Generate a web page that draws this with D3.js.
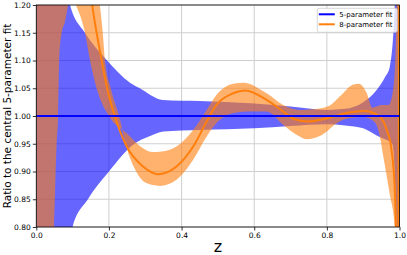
<!DOCTYPE html>
<html>
<head>
<meta charset="utf-8">
<script src="https://cdn.jsdelivr.net/npm/d3@7"></script>
<style>
    body { margin: 0; background: #fff; }
    svg text { font-family: "DejaVu Sans", sans-serif; fill: #000; }
</style>
</head>
<body>
<div id="chart"></div>
<script>
// values
var xTicks = [0.0, 0.2, 0.4, 0.6, 0.8, 1.0];
var yTicks = [0.80, 0.85, 0.90, 0.95, 1.00, 1.05, 1.10, 1.15, 1.20];
var seriesNames = ["5-parameter fit", "8-parameter fit"];

// 5-parameter fit: central value and band
var zFive = [0, 1];
var fiveMid = [1.0, 1.0];
var zFiveHi = [0.0, 0.05, 0.093, 0.134, 0.195, 0.258, 0.285, 0.348, 0.45, 0.59, 0.7, 0.8, 0.85, 0.9, 0.937, 0.96, 0.973, 0.987, 1.0];
var fiveHi = [3.0, 1.5, 1.2, 1.15, 1.10, 1.06, 1.05, 1.029, 1.027, 1.023, 1.017, 1.011, 1.013, 1.025, 1.047, 1.07, 1.088, 1.2, 2.0];
var zFiveLo = [0.0, 0.05, 0.1, 0.142, 0.2, 0.27, 0.31, 0.35, 0.45, 0.6, 0.7, 0.8, 0.85, 0.9, 0.937, 0.96, 0.98, 0.99, 0.995, 1.0];
var fiveLo = [-1.0, 0.5, 0.8, 0.85, 0.90, 0.95, 0.963, 0.972, 0.975, 0.978, 0.982, 0.985, 0.983, 0.978, 0.965, 0.958, 0.95, 0.85, 0.6, 0.0];

// 8-parameter fit: central curve and the two band edges
var zEight = [0.12, 0.154, 0.18, 0.195, 0.216, 0.249, 0.294, 0.335, 0.386, 0.432, 0.469, 0.496, 0.542, 0.575, 0.634, 0.68, 0.712, 0.748, 0.802, 0.857, 0.904, 0.93, 0.95, 0.965, 0.978, 0.987, 0.99, 0.994, 0.9965, 1.0];
var eightMid = [1.4, 1.2, 1.10, 1.05, 1.0, 0.945, 0.909, 0.895, 0.909, 0.945, 0.99, 1.02, 1.041, 1.046, 1.029, 1.008, 0.994, 0.99, 0.996, 1.006, 1.009, 1.005, 0.996, 0.975, 0.939, 0.867, 0.80, 0.55, 0.55, 1.5];
var zEightA = [0.0, 0.03, 0.049, 0.056, 0.06, 0.063, 0.07, 0.079, 0.088, 0.098, 0.109, 0.134, 0.148, 0.166, 0.2, 0.249, 0.294, 0.32, 0.345, 0.386, 0.432, 0.469, 0.496, 0.542, 0.57, 0.634, 0.68, 0.725, 0.76, 0.802, 0.84, 0.87, 0.888, 0.91, 0.925, 0.95, 0.97, 0.985, 0.992, 1.0];
var eightA = [0.2, 0.6, 0.8, 0.95, 1.0, 1.1, 1.15, 1.17, 1.2, 1.215, 1.2, 1.15, 1.10, 1.05, 1.0, 0.969, 0.942, 0.935, 0.936, 0.945, 0.975, 1.011, 1.038, 1.058, 1.06, 1.041, 1.02, 1.011, 1.012, 1.017, 1.038, 1.056, 1.058, 1.041, 1.015, 1.02, 1.02, 1.06, 1.2, 2.0];
var zEightB = [0.0, 0.05, 0.1, 0.15, 0.175, 0.183, 0.189, 0.205, 0.228, 0.25, 0.275, 0.3, 0.34, 0.386, 0.432, 0.469, 0.5, 0.54, 0.58, 0.634, 0.68, 0.72, 0.745, 0.8, 0.82, 0.86, 0.9, 0.93, 0.945, 0.956, 0.973, 0.987, 0.995, 1.0];
var eightB = [3.0, 2.0, 1.6, 1.3, 1.2, 1.15, 1.10, 1.05, 1.0, 0.94, 0.9, 0.88, 0.874, 0.885, 0.921, 0.963, 0.99, 1.005, 1.008, 1.008, 0.984, 0.965, 0.958, 0.972, 0.984, 0.996, 0.998, 0.99, 0.966, 0.925, 0.86, 0.8, 0.5, 0.0];

var width = 407, height = 255;
var plotLeft = 36.3, plotRight = 399.5, plotTop = 5, plotBottom = 227;

var svg = d3.select("#chart").append("svg")
    .attr("width", width)
    .attr("height", height);

var x = d3.scaleLinear().domain([0, 1]).range([plotLeft, plotRight]);
var y = d3.scaleLinear().domain([0.8, 1.2]).range([plotBottom, plotTop]);

svg.append("clipPath").attr("id", "plotclip")
    .append("rect")
    .attr("x", plotLeft).attr("y", plotTop)
    .attr("width", plotRight - plotLeft).attr("height", plotBottom - plotTop);

// grid
var grid = svg.append("g").attr("class", "grid");
grid.selectAll(".gx").data(xTicks).enter().append("line")
    .attr("x1", function(d){ return x(d); }).attr("x2", function(d){ return x(d); })
    .attr("y1", plotTop).attr("y2", plotBottom)
    .style("stroke", "#cfcfcf").style("stroke-width", 1);
grid.selectAll(".gy").data(yTicks).enter().append("line")
    .attr("x1", plotLeft).attr("x2", plotRight)
    .attr("y1", function(d){ return y(d); }).attr("y2", function(d){ return y(d); })
    .style("stroke", "#cfcfcf").style("stroke-width", 1);

function pairs(zs, vs){
    return zs.map(function(z, i){ return [z, vs[i]]; });
}
var line = d3.line().curve(d3.curveMonotoneX)
    .x(function(d){ return x(d[0]); }).y(function(d){ return y(d[1]); });

// band between two edges sampled on different z grids
function band(zA, a, zB, b){
    var pathA = line(pairs(zA, a));
    var rev = pairs(zB, b).reverse();
    var pathB = d3.line().curve(d3.curveMonotoneX)
        .x(function(d){ return x(d[0]); }).y(function(d){ return y(d[1]); })(rev);
    return pathA + "L" + pathB.slice(1) + "Z";
}

var plot = svg.append("g").attr("clip-path", "url(#plotclip)");

plot.append("path")
    .attr("d", band(zFiveHi, fiveHi, zFiveLo, fiveLo))
    .style("fill", "#0000ff").style("fill-opacity", 0.6).style("stroke", "none");
plot.append("path")
    .attr("d", band(zEightA, eightA, zEightB, eightB))
    .style("fill", "#ff7f0e").style("fill-opacity", 0.6).style("stroke", "none");

plot.append("path")
    .attr("d", line(pairs(zEight, eightMid)))
    .style("fill", "none").style("stroke", "#ff7f0e").style("stroke-width", 2);
plot.append("path")
    .attr("d", line(pairs(zFive, fiveMid)))
    .style("fill", "none").style("stroke", "#0000ff").style("stroke-width", 2);

// frame
svg.append("rect")
    .attr("x", plotLeft).attr("y", plotTop)
    .attr("width", plotRight - plotLeft).attr("height", plotBottom - plotTop)
    .style("fill", "none").style("stroke", "#000").style("stroke-width", 0.8);

// axes
var xAxis = svg.append("g")
    .attr("transform", "translate(0," + plotBottom + ")")
    .call(d3.axisBottom(x).tickValues(xTicks).tickFormat(d3.format(".1f")).tickSize(3.5).tickPadding(2));
var yAxis = svg.append("g")
    .attr("transform", "translate(" + plotLeft + ",0)")
    .call(d3.axisLeft(y).tickValues(yTicks).tickFormat(d3.format(".2f")).tickSize(3.5).tickPadding(2));
[xAxis, yAxis].forEach(function(ax){
    ax.select(".domain").remove();
    ax.selectAll("line").style("stroke", "#000").style("stroke-width", 0.8);
    ax.selectAll("text").style("font-size", "7.5px").style("font-family", "DejaVu Sans");
});

svg.append("text")
    .attr("x", (plotLeft + plotRight) / 2).attr("y", 252)
    .attr("text-anchor", "middle")
    .style("font-size", "16px")
    .text("z");
svg.append("text")
    .attr("transform", "translate(11," + ((plotTop + plotBottom) / 2) + ") rotate(-90)")
    .attr("text-anchor", "middle")
    .style("font-size", "10.5px")
    .text("Ratio to the central 5-parameter fit");

// legend
var legend = svg.append("g").attr("transform", "translate(317.3,8.3)");
legend.append("rect")
    .attr("width", 80).attr("height", 24).attr("rx", 2)
    .style("fill", "#fff").style("fill-opacity", 0.8)
    .style("stroke", "#cccccc").style("stroke-width", 0.8);
var colors = ["#0000ff", "#ff7f0e"];
seriesNames.forEach(function(name, i){
    var g = legend.append("g").attr("transform", "translate(0," + (6 + i * 10) + ")");
    g.append("line")
        .attr("x1", 1.5).attr("x2", 17.5).attr("y1", 0).attr("y2", 0)
        .style("stroke", colors[i]).style("stroke-width", 2);
    g.append("text")
        .attr("x", 22).attr("y", 2.5)
        .style("font-size", "7px")
        .text(name);
});
</script>
</body>
</html>
